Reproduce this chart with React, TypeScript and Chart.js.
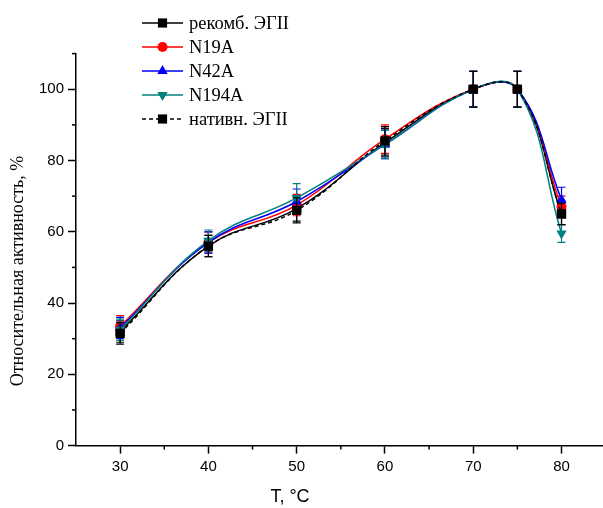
import React, { useEffect, useRef } from "react";
import { Chart, registerables } from "chart.js";

Chart.register(...registerables);

const temps = [30, 40, 50, 60, 70, 75, 80];
const seriesNames = ["рекомб. ЭГII", "N19A", "N42A", "N194A", "нативн. ЭГII"];
const rekomb = [32, 56, 66.5, 85, 100, 100, 65];
const n19a = [33.5, 57, 67.5, 86, 100, 100, 67];
const n42a = [33, 57, 68.5, 84.5, 100, 100, 69];
const n194a = [32.5, 57.5, 69.5, 84.5, 100, 100, 59.5];
const nativ = [31.5, 56, 66, 85.5, 100, 100, 65];
const rekombErr = [3, 3, 3.5, 4, 5, 5, 3];
const n19aErr = [3, 3, 3, 4, 5, 5, 3];
const n42aErr = [3, 3, 3.5, 4, 5, 5, 3.5];
const n194aErr = [3, 3, 4, 4, 5, 5, 2.5];
const nativErr = [3, 3, 3.5, 4, 5, 5, 3];
const xTicks = [30, 40, 50, 60, 70, 80];
const xMinorTicks = [35, 45, 55, 65, 75];
const yTicks = [0, 20, 40, 60, 80, 100];
const yMinorTicks = [10, 30, 50, 70, 90, 110];
const xTitle = "T, °C";
const yTitle = "Относительная активность, %";

const colors = ["#000000", "#ff0000", "#0000ff", "#008080", "#000000"];
const values = [rekomb, n19a, n42a, n194a, nativ];
const errors = [rekombErr, n19aErr, n42aErr, n194aErr, nativErr];
const shapes = ["rect", "circle", "triangle", "triangle", "rect"];
const rotations = [0, 0, 0, 180, 0];
const radii = [6.5, 5, 6, 6, 6.5];
const dashes = [[], [], [], [], [4, 3]];

function drawMarker(ctx: CanvasRenderingContext2D, shape: string, rot: number, x: number, y: number, r: number, color: string) {
  ctx.save();
  ctx.fillStyle = color;
  ctx.beginPath();
  if (shape === "rect") {
    const s = r * Math.SQRT1_2;
    ctx.rect(x - s, y - s, 2 * s, 2 * s);
  } else if (shape === "circle") {
    ctx.arc(x, y, r, 0, Math.PI * 2);
  } else {
    const dir = rot === 180 ? -1 : 1;
    const half = r * Math.sqrt(3) / 2;
    ctx.moveTo(x, y - dir * r);
    ctx.lineTo(x + half, y + dir * r / 2);
    ctx.lineTo(x - half, y + dir * r / 2);
    ctx.closePath();
  }
  ctx.fill();
  ctx.restore();
}

const errorBarPlugin = {
  id: "errorBars",
  afterDatasetDraw(chart: any, args: any) {
    const i = args.index;
    const meta = args.meta;
    const ys = chart.scales.y;
    const ctx = chart.ctx;
    ctx.save();
    ctx.strokeStyle = colors[i];
    ctx.lineWidth = 1.2;
    meta.data.forEach((pt: any, j: number) => {
      const v = values[i][j];
      const e = errors[i][j];
      const x = pt.x;
      const yt = ys.getPixelForValue(v + e);
      const yb = ys.getPixelForValue(v - e);
      ctx.beginPath();
      ctx.moveTo(x, yt);
      ctx.lineTo(x, yb);
      ctx.moveTo(x - 4, yt);
      ctx.lineTo(x + 4, yt);
      ctx.moveTo(x - 4, yb);
      ctx.lineTo(x + 4, yb);
      ctx.stroke();
    });
    ctx.restore();
  },
};

const decorPlugin = {
  id: "decor",
  afterDraw(chart: any) {
    const ctx = chart.ctx;
    const xs = chart.scales.x;
    const ys = chart.scales.y;
    const area = chart.chartArea;
    ctx.save();
    ctx.strokeStyle = "#000";
    ctx.lineWidth = 1.5;
    xMinorTicks.forEach((t) => {
      const px = xs.getPixelForValue(t);
      ctx.beginPath();
      ctx.moveTo(px, area.bottom);
      ctx.lineTo(px, area.bottom + 4);
      ctx.stroke();
    });
    yMinorTicks.forEach((t) => {
      const py = ys.getPixelForValue(t);
      ctx.beginPath();
      ctx.moveTo(area.left, py);
      ctx.lineTo(area.left - 4, py);
      ctx.stroke();
    });
    // titles
    ctx.fillStyle = "#000";
    ctx.font = '18px "Liberation Sans", Arial, sans-serif';
    ctx.textAlign = "center";
    ctx.textBaseline = "middle";
    ctx.fillText(xTitle, 290, 497);
    ctx.save();
    ctx.translate(18, 271);
    ctx.rotate(-Math.PI / 2);
    ctx.font = '18px "Liberation Serif", "Times New Roman", serif';
    ctx.fillText(yTitle, 0, 0);
    ctx.restore();
    // legend
    const lx0 = 142;
    const lx1 = 183;
    const tx = 189;
    const rowY = [23, 47, 71, 95, 119];
    ctx.font = '18.5px "Liberation Serif", "Times New Roman", serif';
    ctx.textAlign = "left";
    seriesNames.forEach((name, i) => {
      const y = rowY[i];
      ctx.save();
      ctx.strokeStyle = colors[i];
      ctx.lineWidth = 1.5;
      ctx.setLineDash(dashes[i]);
      ctx.beginPath();
      ctx.moveTo(lx0, y);
      ctx.lineTo(lx1, y);
      ctx.stroke();
      ctx.restore();
      drawMarker(ctx, shapes[i], rotations[i], (lx0 + lx1) / 2, y, radii[i], colors[i]);
      ctx.fillStyle = "#000";
      ctx.fillText(name, tx, y + 1);
    });
    ctx.restore();
  },
};

export default function App() {
  const ref = useRef<HTMLCanvasElement>(null);
  useEffect(() => {
    if (!ref.current) return;
    const datasets = seriesNames.map((name, i) => ({
      label: name,
      data: temps.map((t, j) => ({ x: t, y: values[i][j] })),
      borderColor: colors[i],
      backgroundColor: colors[i],
      borderWidth: 1.5,
      borderDash: dashes[i],
      pointStyle: shapes[i],
      rotation: rotations[i],
      pointRadius: radii[i],
      pointBorderWidth: 0,
      tension: 0.42,
      order: 4 - i,
    }));
    const chart = new Chart(ref.current, {
      type: "line",
      data: { datasets },
      plugins: [errorBarPlugin, decorPlugin],
      options: {
        animation: false,
        responsive: false,
        maintainAspectRatio: false,
        layout: { autoPadding: false, padding: { top: 53.6, right: 0, left: 0, bottom: 0 } },
        plugins: { legend: { display: false }, tooltip: { enabled: false } },
        scales: {
          x: {
            type: "linear",
            min: 25,
            max: 84.7,
            afterBuildTicks: (s: any) => {
              s.ticks = xTicks.map((v) => ({ value: v }));
            },
            afterFit: (s: any) => {
              s.height = 62.4;
              s.paddingRight = 0;
              s.paddingLeft = 0;
            },
            grid: { drawOnChartArea: false, drawTicks: true, tickLength: 8, color: "#000", tickWidth: 1.5 },
            border: { display: true, color: "#000", width: 1.5 },
            ticks: {
              color: "#000",
              font: { family: '"Liberation Sans", Arial, sans-serif', size: 15 },
              padding: 4,
              maxRotation: 0,
            },
          },
          y: {
            type: "linear",
            min: 0,
            max: 110,
            afterBuildTicks: (s: any) => {
              s.ticks = yTicks.map((v) => ({ value: v }));
            },
            afterFit: (s: any) => {
              s.width = 76;
              s.paddingTop = 0;
              s.paddingBottom = 0;
            },
            grid: { drawOnChartArea: false, drawTicks: true, tickLength: 8, color: "#000", tickWidth: 1.5 },
            border: { display: true, color: "#000", width: 1.5 },
            ticks: {
              color: "#000",
              font: { family: '"Liberation Sans", Arial, sans-serif', size: 15 },
              padding: 4,
            },
          },
        },
      },
    } as any);
    return () => chart.destroy();
  }, []);
  return (
    <div style={{ position: "fixed", left: 0, top: 0, width: 603, height: 508, background: "#fff" }}>
      <canvas ref={ref} width={603} height={508} style={{ width: 603, height: 508 }} />
    </div>
  );
}
